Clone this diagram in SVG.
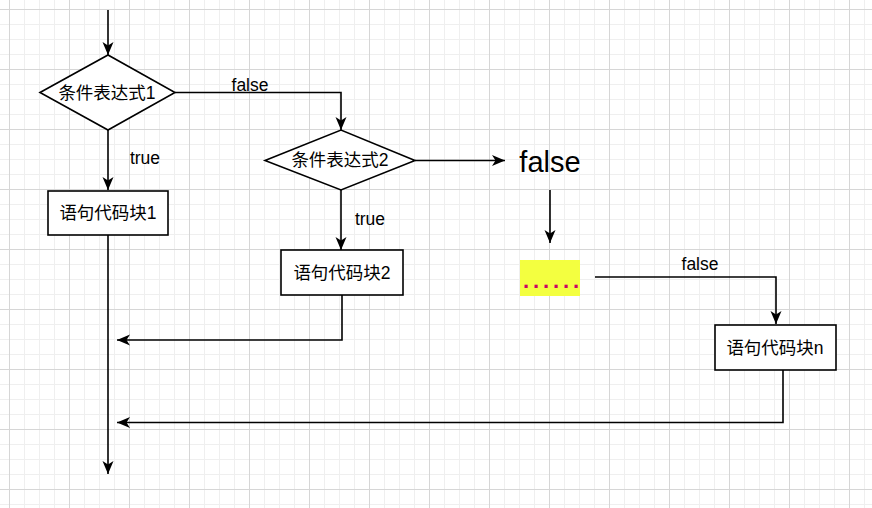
<svg xmlns="http://www.w3.org/2000/svg" width="872" height="508" viewBox="0 0 872 508">
<defs>
<pattern id="minor" width="15" height="15" patternUnits="userSpaceOnUse" x="9" y="9">
<path d="M0.5,0 V15 M0,0.5 H15" fill="none" stroke="#efefef" stroke-width="1"/>
</pattern>
<pattern id="major" width="60" height="60" patternUnits="userSpaceOnUse" x="9" y="9">
<path d="M0.5,0 V60 M0,0.5 H60" fill="none" stroke="#d6d6d6" stroke-width="1"/>
</pattern>
<marker id="arr" markerUnits="userSpaceOnUse" markerWidth="14" markerHeight="14" viewBox="0 0 14 14" refX="13" refY="7" orient="auto">
<path d="M0,1.5 L13,7 L0,12.5 L3.5,7 z" fill="#000"/>
</marker>
</defs>
<style>
.shape{fill:#fff;stroke:#000;stroke-width:1.6}
.t{font-family:"Liberation Sans","Noto Sans CJK SC",sans-serif;font-size:17.5px;fill:#000;text-anchor:middle}
.c{fill:none;stroke:#000;stroke-width:1.6}
.ca{fill:none;stroke:#000;stroke-width:1.6;marker-end:url(#arr)}
</style>
<rect width="872" height="508" fill="#fff"/>
<rect width="872" height="508" fill="url(#minor)"/>
<rect width="872" height="508" fill="url(#major)"/>

<g id="connectors">
<path class="ca" d="M108,10 V55"/>
<path class="ca" d="M175,92.5 H341 V130"/>
<path class="ca" d="M108,130 V190"/>
<path class="ca" d="M415,160.5 H505"/>
<path class="ca" d="M341,190 V250"/>
<path class="ca" d="M550,190 V243"/>
<path class="ca" d="M595,277 H776 V324"/>
<path class="ca" d="M108,235 V474"/>
<path class="ca" d="M342,295 V340 H117"/>
<path class="ca" d="M783,370 V422.5 H117"/>
<text class="t" x="250" y="91">false</text>
<text class="t" x="145" y="164">true</text>
<text class="t" x="370" y="225">true</text>
<text class="t" x="700" y="270">false</text>
</g>

<g id="cond1">
<polygon class="shape" points="40,92.5 108,55 175,92.5 108,130"/>
<text class="t" x="107" y="98.5">条件表达式1</text>
</g>

<g id="block1">
<rect class="shape" x="48" y="191" width="120" height="44"/>
<text class="t" x="108" y="219">语句代码块1</text>
</g>

<g id="cond2">
<polygon class="shape" points="265,160.5 341,130 415,160.5 341,190"/>
<text class="t" x="340" y="166">条件表达式2</text>
</g>

<g id="block2">
<rect class="shape" x="281" y="250" width="122" height="45"/>
<text class="t" x="342" y="278.5">语句代码块2</text>
</g>

<g id="false-big">
<text class="t" x="550" y="172" style="font-size:29px">false</text>
</g>

<g id="dots">
<rect x="520" y="260" width="60" height="36" fill="#f3ff40"/>
<text x="523" y="288" style="font-family:'Liberation Sans',sans-serif;font-size:22px;font-weight:bold;fill:#cc0066;letter-spacing:3.9px">......</text>
</g>

<g id="blockn">
<rect class="shape" x="715" y="325" width="121" height="45"/>
<text class="t" x="775" y="353.5">语句代码块n</text>
</g>
</svg>
